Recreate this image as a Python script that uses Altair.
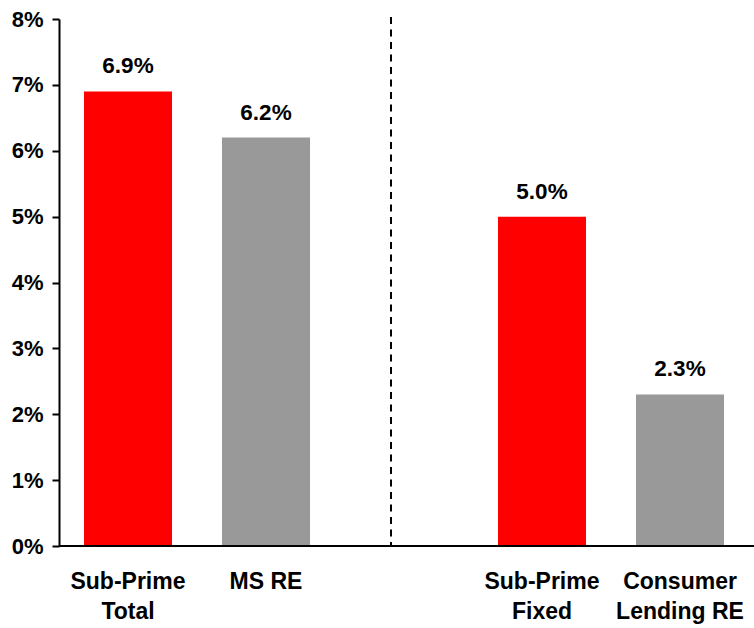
import altair as alt
import pandas as pd

# Data
categories = ["Sub-Prime|Total", "MS RE", "gap", "Sub-Prime|Fixed", "Consumer|Lending RE"]
bar_categories = ["Sub-Prime|Total", "MS RE", "Sub-Prime|Fixed", "Consumer|Lending RE"]
values = [6.9, 6.2, 5.0, 2.3]
value_labels = ["6.9%", "6.2%", "5.0%", "2.3%"]
colors = ["#FF0000", "#999999", "#FF0000", "#999999"]
y_ticks = [0, 1, 2, 3, 4, 5, 6, 7, 8]

df = pd.DataFrame({"cat": bar_categories, "val": values, "lab": value_labels, "color": colors})

FONT = "Liberation Sans"

x_enc = alt.X(
    "cat:N",
    sort=categories,
    scale=alt.Scale(domain=categories, range=[0, 690], paddingInner=0.362, paddingOuter=0.181),
    axis=alt.Axis(
        title=None,
        labelAngle=0,
        ticks=False,
        domain=False,
        labelPadding=24,
        labelLineHeight=30,
        labelFontSize=23,
        labelExpr="datum.label == 'gap' ? '' : split(datum.label, '|')",
    ),
)
y_enc = alt.Y(
    "val:Q",
    scale=alt.Scale(domain=[0, 8], nice=False),
    axis=alt.Axis(
        title=None,
        values=y_ticks,
        labelExpr="datum.value + '%'",
        grid=False,
        tickSize=7,
        tickWidth=2,
        tickColor="black",
        domainColor="black",
        domainWidth=2,
        labelPadding=9,
        labelFontSize=22,
    ),
)

base = alt.Chart(df)
bars = base.mark_bar().encode(x=x_enc, y=y_enc, color=alt.Color("color:N", scale=None))
texts = base.mark_text(
    baseline="alphabetic", dy=-18, fontSize=22.5, fontWeight="bold", font=FONT, color="black"
).encode(x=alt.X("cat:N", sort=categories), y="val:Q", text="lab:N")

divider = alt.Chart(pd.DataFrame({"d": [0]})).mark_rule(
    color="black", strokeWidth=2, strokeDash=[7, 5.5]
).encode(x=alt.value(332), y=alt.value(-2), y2=alt.value(527))

baseline = alt.Chart(pd.DataFrame({"d": [0]})).mark_rule(
    color="black", strokeWidth=2
).encode(x=alt.value(0), x2=alt.value(695), y=alt.value(527))

chart = (
    alt.layer(bars, texts, divider, baseline)
    .properties(
        width=695,
        height=527,
        autosize=alt.AutoSizeParams(type="none"),
        padding={"left": 59, "top": 19, "right": 0, "bottom": 82},
    )
    .configure_view(stroke=None)
    .configure_axis(
        labelFont=FONT,
        labelFontWeight="bold",
        labelColor="black",
    )
)

chart.save("out.html", embed_options={"renderer": "svg", "actions": False})
